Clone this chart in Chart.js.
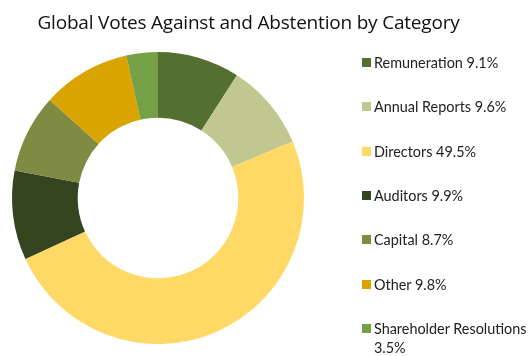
<!DOCTYPE html>
<html>
<head>
<meta charset="utf-8">
<script src="https://cdn.jsdelivr.net/npm/chart.js@4/dist/chart.umd.min.js"></script>
<style>
    body { margin: 0; background: #fff; }
    #wrap { position: relative; width: 531px; height: 356px; }
    #title { position: absolute; left: 0; top: 9px; width: 497px; text-align: center; font-family: 'Open Sans', sans-serif; font-size: 19px; color: #111; letter-spacing: -0.2px; }
    #legend { position: absolute; left: 362px; top: 0; font-family: Lato, sans-serif; font-size: 14.4px; color: #222; }
    .item { position: absolute; left: 0; width: 168px; display: flex; align-items: flex-start; line-height: 19px; }
    .box { width: 9px; height: 9px; margin-top: 5px; margin-right: 3px; flex: none; }
</style>
</head>
<body>
<div id="wrap">
    <canvas id="chart" width="531" height="356"></canvas>
    <div id="title">Global Votes Against and Abstention by Category</div>
    <div id="legend"></div>
</div>
<script>
// Categorías y porcentajes
const categories = ['Remuneration', 'Annual Reports', 'Directors', 'Auditors', 'Capital', 'Other', 'Shareholder Resolutions'];
const shares = [9.1, 9.6, 49.5, 9.9, 8.7, 9.8, 3.5];
const colors = ['#546F30', '#C0C78F', '#FFD966', '#33441E', '#7F8A43', '#D9A300', '#76A045'];

const chart = new Chart(document.getElementById('chart'), {
    type: 'doughnut',
    data: {
        labels: categories,
        datasets: [{
            data: shares,
            backgroundColor: colors,
            borderWidth: 0
        }]
    },
    options: {
        responsive: false,
        animation: false,
        cutout: '55%',
        // el título va en HTML, aquí sólo se deja el hueco
        layout: { padding: { left: 12, right: 227, top: 52, bottom: 12 } },
        plugins: {
            legend: { display: false },
            tooltip: { enabled: false }
        }
    }
});

// Leyenda a la derecha
const legend = document.getElementById('legend');
categories.forEach((name, i) => {
    const row = document.createElement('div');
    row.className = 'item';
    row.style.top = (53 + i * 44.3) + 'px';
    row.innerHTML = `<span class="box" style="background:${colors[i]}"></span><span>${name} ${shares[i]}%</span>`;
    legend.appendChild(row);
});
</script>
</body>
</html>
